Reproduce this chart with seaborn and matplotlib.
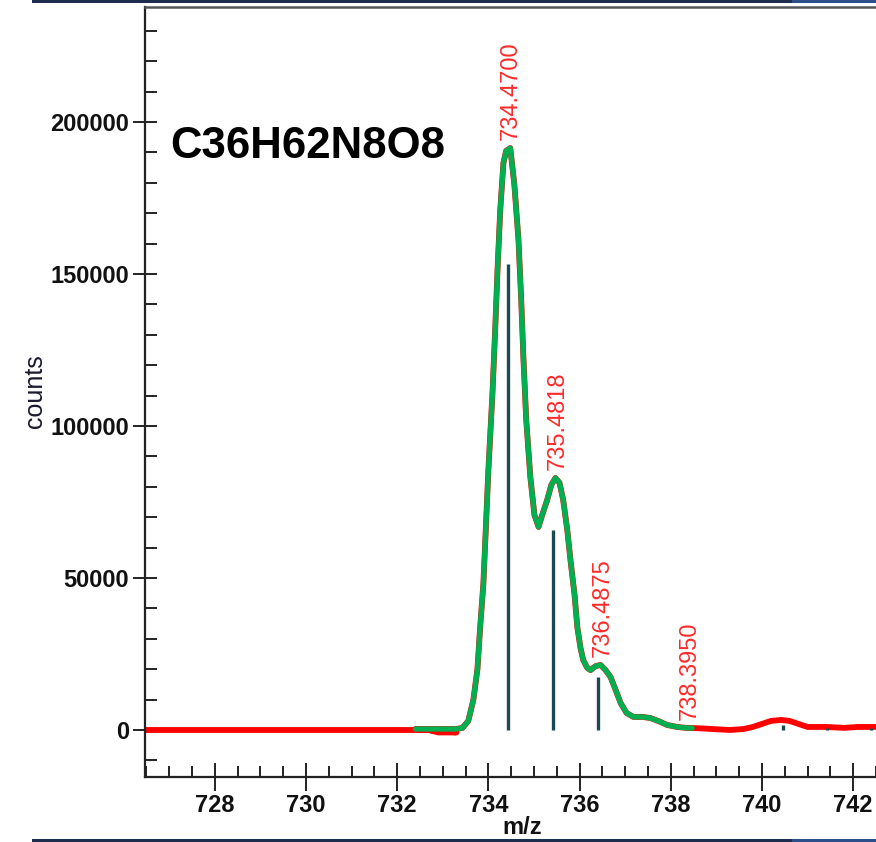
import matplotlib
matplotlib.use("Agg")
import matplotlib.pyplot as plt
import seaborn as sns
import pandas as pd
from matplotlib.ticker import MultipleLocator
from matplotlib.patches import Rectangle

# ---------------- data ----------------
formula = "C36H62N8O8"

# fitted (green) profile
profile_mz = [732.40, 732.95, 733.28, 733.43, 733.56, 733.67, 733.76, 733.82, 733.89,
              733.93, 734.00, 734.09, 734.15, 734.20, 734.26, 734.33, 734.39, 734.48,
              734.57, 734.66, 734.72, 734.77, 734.83, 734.92, 735.01, 735.10, 735.18,
              735.29, 735.38, 735.47, 735.56, 735.64, 735.73, 735.80, 735.89, 735.95,
              736.02, 736.08, 736.17, 736.24, 736.35, 736.46, 736.57, 736.68, 736.79,
              736.90, 737.03, 737.18, 737.38, 737.55, 737.72, 737.92, 738.14, 738.36,
              738.47]
profile_counts = [330, 330, 330, 660, 3000, 9900, 20000, 33900, 48000,
                  61500, 85500, 110900, 132000, 151300, 171000, 186500, 190500, 191400,
                  179300, 161200, 141400, 121700, 102000, 83200, 70700, 66800, 70700,
                  75700, 80600, 82900, 81300, 75700, 65800, 55900, 44400, 33900,
                  27000, 23000, 20400, 19700, 21000, 21400, 19700, 17400, 13200,
                  8900, 5600, 4300, 4300, 3950, 3000, 1650, 1000, 660,
                  660]

# measured (red) spectrum outside the fitted window
red_left_mz = [726.47, 728.0, 730.0, 732.0, 732.70, 732.90, 733.30]
red_left_counts = [0, 0, 0, 0, 0, -800, -800]
red_right_mz = [738.70, 738.90, 739.30, 739.60, 739.80, 740.00, 740.20, 740.42,
                740.60, 740.80, 741.00, 741.40, 741.80, 742.10, 742.50]
red_right_counts = [500, 330, 0, 330, 1000, 2000, 3000, 3300,
                    3000, 2000, 1000, 1000, 700, 1000, 1000]

# theoretical isotope sticks
stick_mz = [734.43, 735.42, 736.41, 740.45, 741.42, 742.38]
stick_counts = [153300, 65800, 17400, 1700, 600, 600]

# peak labels
label_mz = [734.4700, 735.4818, 736.4875, 738.3950]
label_counts = [191400, 82900, 21400, 660]

x_ticks = [728, 730, 732, 734, 736, 738, 740, 742]
y_ticks = [0, 50000, 100000, 150000, 200000]

# ---------------- styling ----------------
sns.set_theme(style="white")
plt.rcParams["font.family"] = ["Liberation Sans", "DejaVu Sans"]

W, H = 876, 842
fig = plt.figure(figsize=(W / 100, H / 100), dpi=100)
ax = fig.add_axes([145 / W, 1 - 777 / H, (W - 145) / W, (777 - 7) / H])

red_df = pd.DataFrame({
    "mz": red_left_mz + profile_mz + red_right_mz,
    "counts": red_left_counts + profile_counts + red_right_counts,
})
green_df = pd.DataFrame({"mz": profile_mz, "counts": profile_counts})

sns.lineplot(data=red_df, x="mz", y="counts", sort=False, estimator=None,
             color="#ff0000", lw=4.2, ax=ax, zorder=2)
sns.lineplot(data=green_df, x="mz", y="counts", sort=False, estimator=None,
             color="#00b050", lw=3.8, ax=ax, zorder=3)
ax.vlines(stick_mz, 0, stick_counts, color="#1b4a52", lw=2.4, zorder=4)

for m, c in zip(label_mz, label_counts):
    ax.annotate(f"{m:.4f}", xy=(m, c), xytext=(1, 6), textcoords="offset points",
                rotation=90, ha="center", va="bottom", color="#ff2a2a",
                fontsize=17, zorder=5)

ax.text(0.034, 0.804, formula, transform=ax.transAxes, ha="left", va="baseline",
        fontsize=31.5, fontweight="bold", color="black")

ax.set_xlim(726.47, 742.50)
ax.set_ylim(-15460, 237800)

ax.set_xticks(x_ticks, labels=[str(v) for v in x_ticks])
ax.set_yticks(y_ticks, labels=[str(v) for v in y_ticks])
ax.xaxis.set_minor_locator(MultipleLocator(0.5))
ax.yaxis.set_minor_locator(MultipleLocator(10000))

ax.tick_params(axis="x", which="major", direction="inout", length=20, width=1.4,
               labelsize=17, pad=2, color="#222222", labelcolor="#111111",
               bottom=True)
ax.tick_params(axis="x", which="minor", direction="in", length=8, width=1.4,
               color="#222222", bottom=True)
ax.tick_params(axis="y", which="major", direction="inout", length=17, width=1.4,
               labelsize=17, pad=3, color="#222222", labelcolor="#111111",
               left=True)
ax.tick_params(axis="y", which="minor", direction="in", length=8.5, width=1.4,
               color="#222222", left=True)
for lbl in ax.get_xticklabels() + ax.get_yticklabels():
    lbl.set_fontweight("bold")

ax.set_xlabel("m/z", fontsize=17, fontweight="bold", color="#111111")
ax.set_ylabel("counts", fontsize=18, color="#1a1a2e")
ax.xaxis.set_label_coords(0.516, -0.050)
ax.yaxis.set_label_coords(-0.134, 0.501)

for side in ("left", "bottom"):
    ax.spines[side].set_color("#222222")
    ax.spines[side].set_linewidth(1.6)
ax.spines["top"].set_color("#555555")
ax.spines["top"].set_linewidth(1.8)
ax.spines["right"].set_visible(False)

# screenshot border bands
fig.add_artist(Rectangle((32 / W, 1 - 3 / H), (792 - 32) / W, 3 / H,
                         transform=fig.transFigure, color="#1c2d4d", lw=0))
fig.add_artist(Rectangle((792 / W, 1 - 3 / H), (W - 792) / W, 3 / H,
                         transform=fig.transFigure, color="#2c4e8a", lw=0))
fig.add_artist(Rectangle((32 / W, 0), (792 - 32) / W, 3 / H,
                         transform=fig.transFigure, color="#1c2d4d", lw=0))
fig.add_artist(Rectangle((792 / W, 0), (W - 792) / W, 3 / H,
                         transform=fig.transFigure, color="#2c4e8a", lw=0))

fig.savefig("out.png", dpi=100, facecolor="white")
